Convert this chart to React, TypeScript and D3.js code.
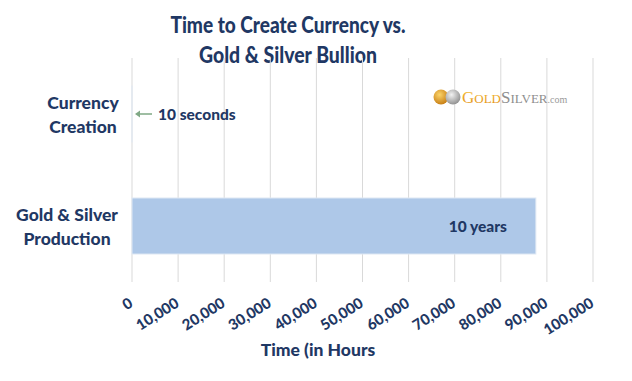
import React from "react";
import * as d3 from "d3";

const categories = ["Currency Creation", "Gold & Silver Production"];
const categoryLines = [["Currency", "Creation"], ["Gold & Silver", "Production"]];
const valuesHours = [10 / 3600, 87600];
const valueLabels = ["10 seconds", "10 years"];
const xTicks = [0, 10000, 20000, 30000, 40000, 50000, 60000, 70000, 80000, 90000, 100000];
const titleLines = ["Time to Create Currency vs.", "Gold & Silver Bullion"];
const titleWidths = [235, 178];
const xAxisTitle = "Time (in Hours";

const W = 632, H = 381;
const navy = "#1F3864";
const font = "Lato, 'Open Sans', sans-serif";

export default function App() {
  const x = d3.scaleLinear().domain([0, 100000]).range([132, 593]);
  const y = d3.scaleBand<string>().domain(categories).range([58, 282]).paddingInner(0.5).paddingOuter(0.25);
  const fmt = d3.format(",");
  const labelCenters = [83, 67];
  return (
    <svg width={W} height={H} style={{ position: "absolute", left: 0, top: 0, background: "#fff" }} fontFamily={font}>
      <defs>
        <linearGradient id="goldG" x1="0" y1="0" x2="0" y2="1">
          <stop offset="0" stopColor="#F7C544" />
          <stop offset="1" stopColor="#E08A10" />
        </linearGradient>
        <radialGradient id="coinG" cx="0.4" cy="0.35" r="0.7">
          <stop offset="0" stopColor="#FBD46A" />
          <stop offset="1" stopColor="#C57A10" />
        </radialGradient>
        <radialGradient id="coinS" cx="0.4" cy="0.35" r="0.7">
          <stop offset="0" stopColor="#F2F2F2" />
          <stop offset="1" stopColor="#8C8C8C" />
        </radialGradient>
      </defs>
      {/* title */}
      {titleLines.map((t, i) => (
        <text key={t} x={288} y={33 + i * 30} textAnchor="middle" fontSize={23} fontWeight={900} fill={navy}
          textLength={titleWidths[i]} lengthAdjust="spacingAndGlyphs">{t}</text>
      ))}
      {/* gridlines */}
      {xTicks.map((t) => (
        <line key={t} x1={x(t)} x2={x(t)} y1={58} y2={282} stroke="#D9D9D9" strokeWidth={1} />
      ))}
      {/* bars */}
      {categories.map((c, i) => (
        <rect key={c} x={x(0)} y={y(c)!} width={x(valuesHours[i]) - x(0)} height={y.bandwidth()} fill="#AEC8E8" stroke="#DDE7F3" strokeWidth={1} />
      ))}
      {/* category labels */}
      {categories.map((c, i) => {
        const cy = y(c)! + y.bandwidth() / 2;
        return (
          <text key={c} textAnchor="middle" fontSize={17.5} fontWeight={900} fill={navy}>
            {categoryLines[i].map((l, j) => (
              <tspan key={l} x={labelCenters[i]} y={cy - 5 + j * 24}>{l}</tspan>
            ))}
          </text>
        );
      })}
      {/* value labels */}
      {(() => {
        const cy0 = y(categories[0])! + y.bandwidth() / 2;
        const cy1 = y(categories[1])! + y.bandwidth() / 2;
        return (
          <g>
            <line x1={x(valuesHours[0]) + 5} x2={x(valuesHours[0]) + 20} y1={cy0} y2={cy0} stroke="#7FA885" strokeWidth={1.5} />
            <path d={`M${x(valuesHours[0]) + 3},${cy0} l5,-3.5 l0,7 z`} fill="#7FA885" />
            <text x={x(valuesHours[0]) + 26} y={cy0 + 5.5} fontSize={15.5} fontWeight={900} fill={navy}>{valueLabels[0]}</text>
            <text x={x(valuesHours[1]) - 29} y={cy1 + 5.5} textAnchor="end" fontSize={15.5} fontWeight={900} fill={navy}>{valueLabels[1]}</text>
          </g>
        );
      })()}
      {/* x tick labels */}
      {xTicks.map((t) => (
        <text key={t} transform={`translate(${x(t) + 2},${306}) rotate(-32)`} textAnchor="end" fontSize={15} fontWeight={900} fill={navy}>{fmt(t)}</text>
      ))}
      <text x={318} y={356} textAnchor="middle" fontSize={17.5} fontWeight={900} fill={navy}>{xAxisTitle}</text>
      {/* logo */}
      <g>
        <circle cx={441} cy={97} r={7.5} fill="url(#coinG)" />
        <circle cx={453} cy={97} r={7.5} fill="url(#coinS)" />
        <text x={462} y={103} fontFamily="'Liberation Serif', serif" fontSize={17} fill="url(#goldG)">
          G<tspan fontSize={13}>OLD</tspan>
          <tspan fill="#8E8E8E" fontSize={17}>S</tspan>
          <tspan fill="#8E8E8E" fontSize={13}>ILVER</tspan>
          <tspan fill="#9A9A9A" fontSize={10}>.com</tspan>
        </text>
      </g>
    </svg>
  );
}
